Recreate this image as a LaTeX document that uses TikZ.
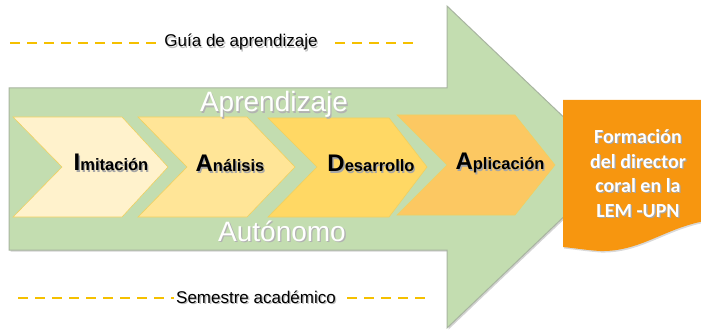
\documentclass[tikz,border=0pt]{standalone}
\usepackage{fontspec}
\setmainfont{Liberation Sans}
\newfontfamily\calib{Carlito}
\usetikzlibrary{shadows}
\definecolor{arrowgreen}{HTML}{C3DDB0}
\definecolor{arrowline}{HTML}{A8B4A0}
\definecolor{dashgold}{HTML}{F5C000}
\definecolor{chevA}{HTML}{FFF2CC}
\definecolor{chevB}{HTML}{FFE597}
\definecolor{chevC}{HTML}{FFD864}
\definecolor{chevD}{HTML}{FCC862}
\definecolor{chevline}{HTML}{F0D060}
\definecolor{boxorange}{HTML}{F7960F}
\newcommand{\shadowed}[2]{{\color{#1}\rlap{\hspace{1.3pt}\raisebox{-1.3pt}{#2}}}#2}
\newcommand{\bigini}[2]{\shadowed{black!35}{{\fontsize{24}{24}\selectfont #1}{\fontsize{16.5}{18}\selectfont #2}}}
\begin{document}
\begin{tikzpicture}[x=1pt,y=-1pt,
  bigarrow/.style={fill=arrowgreen,draw=arrowline,line width=1pt,
    drop shadow={shadow xshift=1.5pt,shadow yshift=-1.5pt,opacity=.35}},
  chevbox/.style={draw=chevline,line width=0.6pt},
  steplabel/.style={anchor=base,inner sep=0pt,font=\bfseries},
  whitelabel/.style={anchor=base,inner sep=0pt,text=white,font=\fontsize{28}{30}\selectfont},
  dashline/.style={draw=dashgold,line width=1.8pt,dash pattern=on 10pt off 7pt},
  sidelabel/.style={inner sep=2pt,font=\fontsize{17}{19}\selectfont},
  docbox/.style={fill=boxorange,draw=none,
    drop shadow={shadow xshift=1pt,shadow yshift=-1.5pt,opacity=.3}},
]
\useasboundingbox (0,0) rectangle (701,331);

% big green arrow
\path[bigarrow] (9,88) -- (447,88) -- (447,6) -- (616,167) -- (447,328) -- (447,250) -- (9,250) -- cycle;

% chevrons
\path[chevbox,fill=chevA] (13,117) -- (122,117) -- (168,167) -- (122,217) -- (13,217) -- (62,167) -- cycle;
\path[chevbox,fill=chevB] (138,117) -- (247,117) -- (295,167) -- (247,217) -- (138,217) -- (187,167) -- cycle;
\path[chevbox,fill=chevC] (268,118) -- (389,118) -- (427,167) -- (389,217) -- (268,217) -- (317,167) -- cycle;
\path[chevbox,fill=chevD] (397,115) -- (515,115) -- (555,165) -- (515,215) -- (397,215) -- (447,165) -- cycle;

\node[steplabel] (imit) at (111,171) {\bigini{I}{mitación}};
\node[steplabel] (anal) at (230,172) {\bigini{A}{nálisis}};
\node[steplabel] (desa) at (371,172) {\bigini{D}{esarrollo}};
\node[steplabel] (apli) at (500,170) {\bigini{A}{plicación}};

\node[whitelabel] (aprend) at (274,112) {\shadowed{black!30}{Aprendizaje}};
\node[whitelabel] (auton) at (282,241) {\shadowed{black!30}{Autónomo}};

% orange document box
\path[docbox] (563,100) -- (705,100) -- (705,221)
  .. controls (665,228) and (640,252) .. (600,251)
  .. controls (585,250) and (574,248) .. (563,247) -- cycle;
\node[inner sep=0pt,align=center,text=white,
  font=\calib\bfseries\fontsize{20}{24.5}\selectfont] (form) at (638,174)
  {\shadowed{black!35}{Formación}\\\shadowed{black!35}{del director}\\\shadowed{black!35}{coral en la}\\\shadowed{black!35}{LEM -UPN}};

% dashed guide lines
\node[sidelabel] (guia) at (241,43) {\shadowed{black!25}{Guía de aprendizaje}};
\coordinate (gl) at (10,43);
\coordinate (gr1) at (335,43);
\coordinate (gr2) at (420,43);
\draw[dashline] (gl) -- (guia.west);
\draw[dashline] (gr1) -- (gr2);

\node[sidelabel] (seme) at (256,298) {\shadowed{black!25}{Semestre académico}};
\coordinate (sl) at (18,298);
\coordinate (sr1) at (347,298);
\coordinate (sr2) at (432,298);
\draw[dashline] (sl) -- (seme.west);
\draw[dashline] (sr1) -- (sr2);
\end{tikzpicture}
\end{document}
